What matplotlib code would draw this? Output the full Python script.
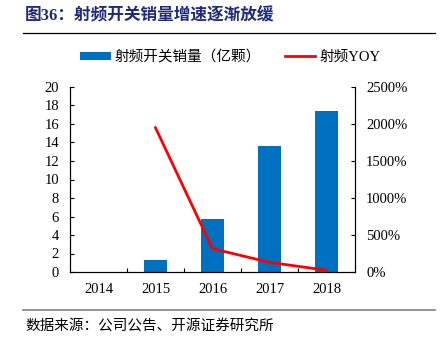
import matplotlib
matplotlib.use("Agg")
import matplotlib.pyplot as plt
from matplotlib.patches import Patch
from matplotlib.lines import Line2D
import numpy as np

plt.rcParams['font.family'] = ['Liberation Serif', 'Noto Sans CJK SC', 'DejaVu Sans']

# 数据
years = ['2014', '2015', '2016', '2017', '2018']
sales = [0.03, 1.26, 5.73, 13.65, 17.37]          # 射频开关销量（亿颗）
yoy_years = ['2015', '2016', '2017', '2018']
yoy = [1950, 315, 131, 23]                         # 射频YOY (%)
left_ticks = list(range(0, 21, 2))
right_ticks = list(range(0, 2501, 500))

bar_color = '#0070C0'
line_color = '#FF0000'

fig = plt.figure(figsize=(4.42, 3.39), dpi=100)
ax = fig.add_axes([70/442, 1-272/339, 285/442, 185/339])
ax2 = ax.twinx()

x = np.arange(len(years))
ax.bar(x, sales, width=0.39, color=bar_color, zorder=2)
xi = [years.index(y) for y in yoy_years]
ax2.plot(xi, yoy, color=line_color, lw=2.0, zorder=3)

ax.set_xlim(-0.5, len(years) - 0.5)
ax.set_ylim(0, 20)
ax2.set_ylim(0, 2500)
ax.set_yticks(left_ticks)
ax2.set_yticks(right_ticks)
ax2.set_yticklabels([f'{t}%' for t in right_ticks])

ax.set_xticks(x)
ax.set_xticklabels(years)
ax.set_xticks(np.arange(0.5, len(years) - 1, 1), minor=True)
ax.tick_params(axis='x', which='major', length=0, pad=8, labelsize=10.5)
ax.tick_params(axis='x', which='minor', direction='in', length=3, width=0.8)
ax.tick_params(axis='y', direction='in', length=3, width=0.8, pad=8, labelsize=10.5)
ax2.tick_params(axis='y', direction='in', length=3, width=0.8, pad=8, labelsize=10.5)

for a in (ax, ax2):
    a.spines['top'].set_visible(False)
    for s in ('left', 'right', 'bottom'):
        a.spines[s].set_linewidth(0.8)

# 图例
handles = [Patch(facecolor=bar_color, label='射频开关销量（亿颗）'),
           Line2D([0], [0], color=line_color, lw=2.0, label='射频YOY')]
leg = fig.legend(handles=handles, loc='center left', bbox_to_anchor=(80/442, 1-57/339),
                 ncol=2, frameon=False, fontsize=10.5, handlelength=2.1, handleheight=0.45,
                 handletextpad=0.3, columnspacing=1.6, borderaxespad=0, borderpad=0)

# 标题与来源
fig.text(25/442, 1-16/339, '图36：射频开关销量增速逐渐放缓', fontsize=12, fontweight='bold',
         color='#1F2A7A', va='center', ha='left')
fig.add_artist(Line2D([23/442, 435/442], [1-32.7/339, 1-32.7/339], color='black', lw=0.9))
fig.add_artist(Line2D([23/442, 435/442], [1-310/339, 1-310/339], color='#808080', lw=1.2))
fig.text(25/442, 1-327/339, '数据来源：公司公告、开源证券研究所', fontsize=10.5, va='center', ha='left')

fig.savefig('out.png', dpi=100)
